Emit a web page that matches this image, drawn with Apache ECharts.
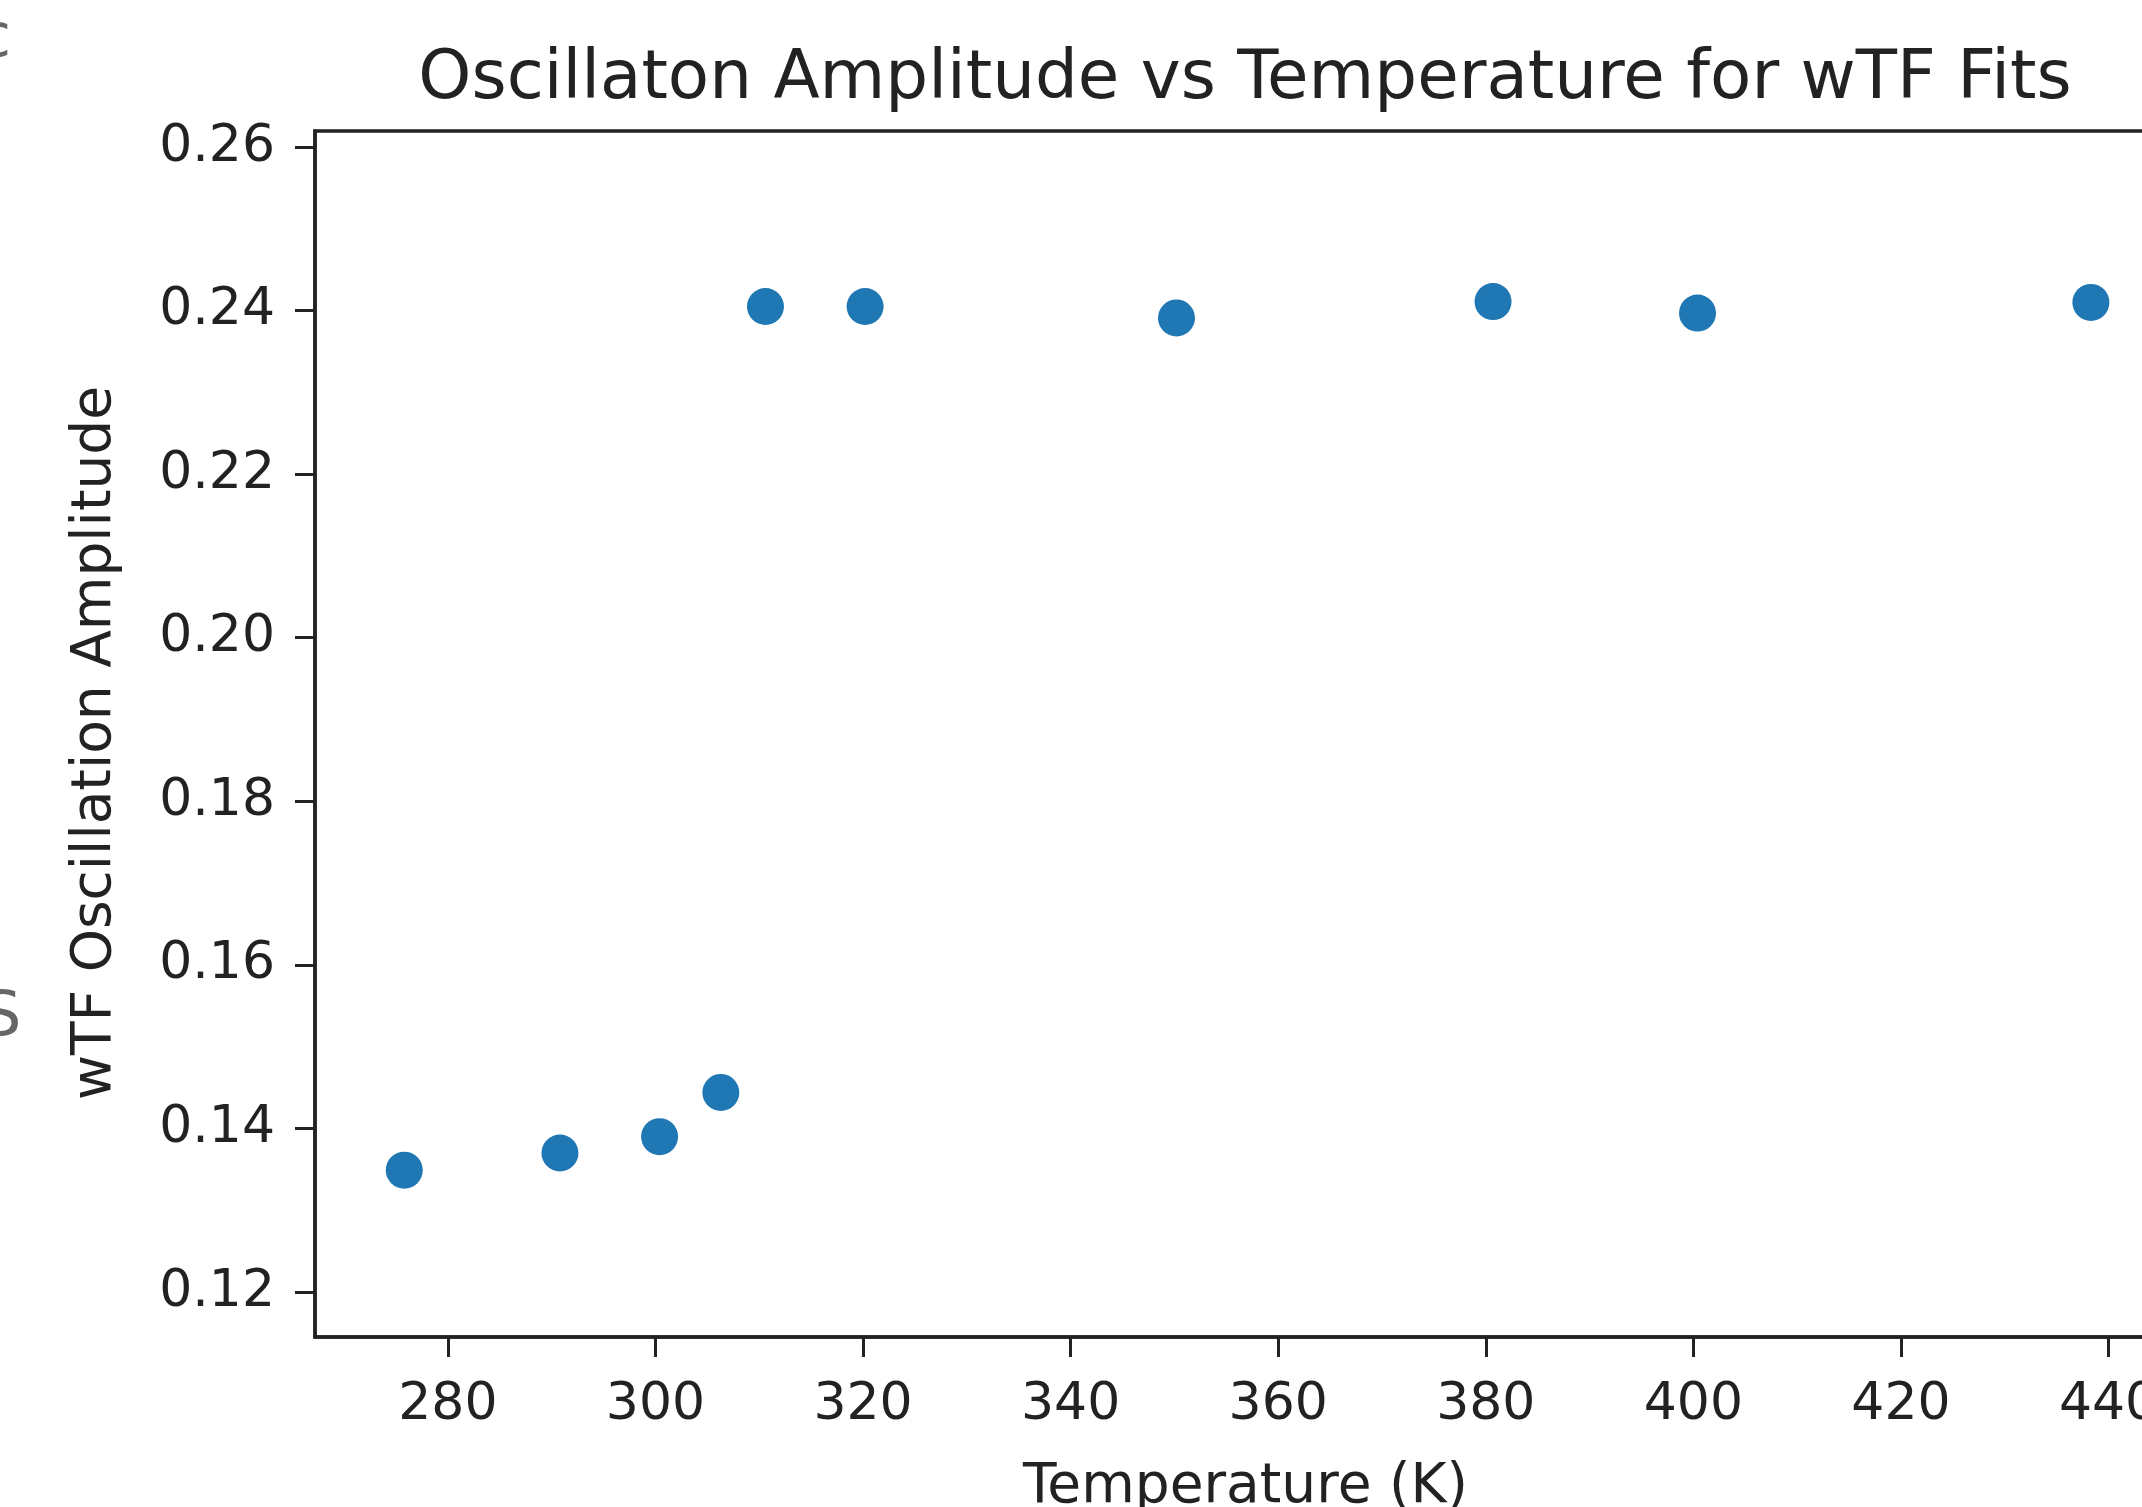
<!DOCTYPE html>
<html>
<head>
<meta charset="utf-8">
<style>
  html, body { margin: 0; padding: 0; background: #ffffff; }
  #chart { width: 2142px; height: 1507px; }
</style>
<script src="https://cdn.jsdelivr.net/npm/echarts@6/dist/echarts.min.js"></script>
</head>
<body>
<div id="chart"></div>
<script>
// Data
const temperatures = [275.8, 290.8, 300.4, 306.3, 310.6, 320.2, 350.2, 380.7, 400.4, 438.3];
const amplitudes   = [0.1349, 0.1370, 0.1390, 0.1444, 0.2405, 0.2405, 0.2391, 0.2411, 0.2397, 0.2410];
const xTicks = [280, 300, 320, 340, 360, 380, 400, 420, 440];
const yTicks = [0.12, 0.14, 0.16, 0.18, 0.20, 0.22, 0.24, 0.26];
const titleText = 'Oscillaton Amplitude vs Temperature for wTF Fits';
const xLabel = 'Temperature (K)';
const yLabel = 'wTF Oscillation Amplitude';

const FONT = '"DejaVu Sans", "Liberation Sans", sans-serif';
const INK = '#222222';

const chart = echarts.init(document.getElementById('chart'), null, { renderer: 'canvas' });

const points = temperatures.map((t, i) => [t, amplitudes[i]]);

chart.setOption({
  animation: false,
  backgroundColor: '#ffffff',
  grid: {
    left: 315, top: 131, right: -34, bottom: 170,
    outerBoundsMode: 'none',
    containLabel: false,
    show: true, borderColor: INK, borderWidth: 3.5, backgroundColor: 'transparent'
  },
  xAxis: {
    type: 'value',
    min: 267.2, max: 446.5,
    name: xLabel,
    nameLocation: 'middle',
    nameGap: 123,
    nameTextStyle: { fontFamily: FONT, fontSize: 55, color: INK },
    axisLine: { show: true, lineStyle: { color: INK, width: 3.5 } },
    axisTick: { show: true, inside: false, length: 20, customValues: xTicks, lineStyle: { color: INK, width: 3 } },
    axisLabel: { show: true, customValues: xTicks, margin: 42, fontFamily: FONT, fontSize: 52, color: INK,
                 hideOverlap: false, formatter: v => String(Math.round(v)) },
    splitLine: { show: false }
  },
  yAxis: {
    type: 'value',
    min: 0.1145, max: 0.26196,
    axisLine: { show: true, lineStyle: { color: INK, width: 3.5 } },
    axisTick: { show: true, inside: false, length: 20, customValues: yTicks, lineStyle: { color: INK, width: 3 } },
    axisLabel: { show: true, customValues: yTicks, margin: 40, fontFamily: FONT, fontSize: 52, color: INK,
                 hideOverlap: false, formatter: v => v.toFixed(2) },
    splitLine: { show: false }
  },
  graphic: [
    { type: 'text', x: 1245, y: 80,
      style: { text: titleText, font: '67.5px ' + FONT, fill: INK, textAlign: 'center', textVerticalAlign: 'middle' } },
    { type: 'text', x: 96, y: 743, rotation: Math.PI / 2,
      style: { text: yLabel, font: '55px ' + FONT, fill: INK, textAlign: 'center', textVerticalAlign: 'middle' } },
    { type: 'text', x: -18, y: 1019,
      style: { text: 'S', font: '62px ' + FONT, fill: '#666666', textAlign: 'left', textVerticalAlign: 'middle' } },
    { type: 'text', x: -22, y: 40,
      style: { text: 'c', font: '60px ' + FONT, fill: '#666666', textAlign: 'left', textVerticalAlign: 'middle' } }
  ],
  series: [{
    type: 'scatter',
    data: points,
    symbol: 'circle',
    symbolSize: 37,
    itemStyle: { color: '#1f77b4', opacity: 1 },
    clip: false
  }]
});
</script>
</body>
</html>
